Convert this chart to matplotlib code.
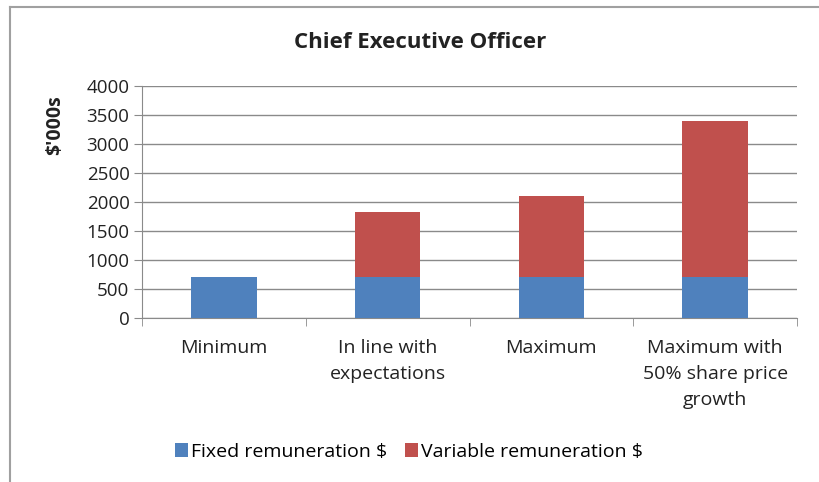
import matplotlib
matplotlib.use("Agg")
import matplotlib.pyplot as plt
from matplotlib.patches import Patch
from matplotlib.lines import Line2D

categories = ["Minimum", "In line with\nexpectations", "Maximum", "Maximum with\n50% share price\ngrowth"]
fixed = [700, 700, 700, 700]
variable = [0, 1130, 1400, 2700]
yticks = [0, 500, 1000, 1500, 2000, 2500, 3000, 3500, 4000]

blue = "#4F81BD"
red = "#C0504D"
font = "Open Sans"
txt = "#222222"

fig = plt.figure(figsize=(8.19, 4.82), dpi=100)
ax = fig.add_axes([142/819, 1-318/482, (797-142)/819, (318-86)/482])

x = list(range(len(categories)))
ax.bar(x, fixed, width=0.4, color=blue, zorder=3)
ax.bar(x, variable, width=0.4, bottom=fixed, color=red, zorder=3)

ax.set_xlim(-0.5, len(categories) - 0.5)
ax.set_ylim(0, 4000)
ax.set_yticks(yticks)
ax.set_yticklabels([str(v) for v in yticks], fontfamily=font, fontsize=13.5, color=txt)
ax.yaxis.grid(True, color="#8a8a8a", linewidth=1.0, zorder=0)
ax.tick_params(axis="y", length=6, color="#8a8a8a", pad=3)

ax.set_xticks(x)
ax.set_xticklabels(categories, fontfamily=font, fontsize=14, color=txt, linespacing=1.58)
ax.tick_params(axis="x", length=0, pad=15)
ax.set_xticks([i - 0.5 for i in range(len(categories) + 1)], minor=True)
ax.tick_params(axis="x", which="minor", length=6, color="#8a8a8a")

for s in ["top", "right"]:
    ax.spines[s].set_visible(False)
ax.spines["left"].set_color("#8a8a8a")
ax.spines["bottom"].set_color("#8a8a8a")

ax.set_ylabel("$'000s", fontfamily=font, fontsize=14, fontweight="bold", color=txt)
ax.yaxis.set_label_coords(-0.117, 0.83)

fig.text(420/819, 1-42/482, "Chief Executive Officer", ha="center", va="center",
         fontfamily=font, fontsize=16, fontweight="bold", color=txt)

handles = [Patch(facecolor=blue, label="Fixed remuneration $"),
           Patch(facecolor=red, label="Variable remuneration $")]
fig.legend(handles=handles, loc="center", bbox_to_anchor=(409/819, 1-452/482), ncol=2,
           frameon=False, prop={"family": font, "size": 14}, handlelength=0.7, handleheight=0.7,
           handletextpad=0.15, columnspacing=0.9)

fig.add_artist(Line2D([10/819, 10/819], [0, 1-7/482], transform=fig.transFigure, color="#a0a0a0", linewidth=1.5))
fig.add_artist(Line2D([10/819, 1], [1-7/482, 1-7/482], transform=fig.transFigure, color="#a0a0a0", linewidth=1.5))

fig.savefig("out.png", dpi=100)
